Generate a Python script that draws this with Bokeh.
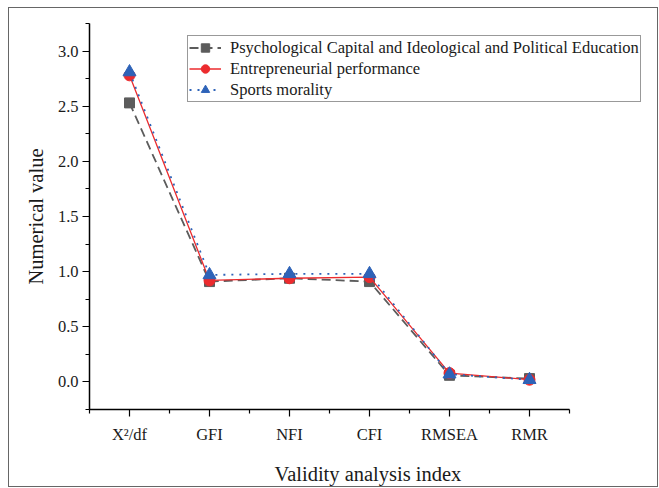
from bokeh.plotting import figure
from bokeh.models import FixedTicker, SingleIntervalTicker, Range1d, Legend, LegendItem, NumeralTickFormatter
from bokeh.embed import file_html
from bokeh.resources import INLINE

categories = ["X\u00b2/df", "GFI", "NFI", "CFI", "RMSEA", "RMR"]
psych_capital = [2.53, 0.91, 0.94, 0.91, 0.06, 0.03]
entrepreneurial = [2.78, 0.92, 0.94, 0.95, 0.08, 0.02]
sports_morality = [2.81, 0.97, 0.98, 0.98, 0.07, 0.02]
series_names = ["Psychological Capital and Ideological and Political Education",
                "Entrepreneurial performance", "Sports morality"]

FONT = "Liberation Serif"
xs = list(range(len(categories)))

# frame extends right past the axis so the legend is not clipped; axis is bounded
p = figure(width=650, height=480, output_backend="svg", toolbar_location=None,
           x_range=Range1d(-0.5, -0.5 + 557 / 80), y_range=Range1d(-0.25, 3.25),
           min_border_left=80, min_border_right=13, min_border_top=15, min_border_bottom=79)
p.styles = {"border": "1px solid #666666", "margin-left": "8px", "margin-top": "7px"}
p.outline_line_color = None
p.xgrid.visible = False
p.ygrid.visible = False

gray, red, blue = "#5c5c5c", "#ec2b2e", "#2e63b8"

l1 = p.line(xs, psych_capital, line_color=gray, line_width=1.8, line_dash="9 5")
s1 = p.scatter(xs, psych_capital, marker="square", size=10, fill_color=gray, line_color=gray)
l2 = p.line(xs, entrepreneurial, line_color=red, line_width=1.3)
s2 = p.scatter(xs, entrepreneurial, marker="circle", size=11, fill_color=red, line_color=red)
l3 = p.line(xs, sports_morality, line_color=blue, line_width=1.8, line_dash="2 6")
s3 = p.scatter(xs, sports_morality, marker="triangle", size=13, fill_color=blue, line_color=blue)

# axes
p.xaxis.bounds = (-0.5, len(categories) - 0.5)
p.xaxis.ticker = FixedTicker(ticks=xs, minor_ticks=[x - 0.5 for x in xs] + [xs[-1] + 0.5])
p.xaxis.major_label_overrides = {i: c for i, c in enumerate(categories)}
p.yaxis.ticker = SingleIntervalTicker(interval=0.5, num_minor_ticks=2)
p.yaxis.formatter = NumeralTickFormatter(format="0.0")
for ax in (p.xaxis, p.yaxis):
    ax.axis_line_color = "black"
    ax.axis_line_width = 1.5
    ax.major_tick_line_color = "black"
    ax.minor_tick_line_color = "black"
    ax.major_tick_line_width = 1.2
    ax.minor_tick_line_width = 1.2
    ax.major_tick_out = 7
    ax.major_tick_in = 0
    ax.minor_tick_out = 4
    ax.minor_tick_in = 0
    ax.major_label_text_font = FONT
    ax.major_label_text_font_size = "16.5px"
    ax.major_label_text_color = "#1a1a1a"
    ax.axis_label_text_font = FONT
    ax.axis_label_text_font_size = "20.5px"
    ax.axis_label_text_font_style = "normal"
    ax.axis_label_text_color = "#1a1a1a"
p.xaxis.axis_label = "Validity analysis index"
p.yaxis.axis_label = "Numerical value"
p.xaxis.major_label_standoff = 8
p.xaxis.axis_label_standoff = 16
p.yaxis.major_label_standoff = 4
p.yaxis.axis_label_standoff = 8

legend = Legend(items=[
    LegendItem(label=series_names[0], renderers=[l1, s1]),
    LegendItem(label=series_names[1], renderers=[l2, s2]),
    LegendItem(label=series_names[2], renderers=[l3, s3]),
], location=(98, 307))
legend.label_text_font = FONT
legend.label_text_font_size = "16.5px"
legend.label_text_color = "#1a1a1a"
legend.border_line_color = "#333333"
legend.border_line_width = 1.2
legend.background_fill_alpha = 1
legend.padding = 1
legend.margin = 0
legend.spacing = 0
legend.glyph_width = 32
legend.glyph_height = 21
legend.label_height = 21
legend.label_standoff = 9
p.add_layout(legend, "center")

open("out.html", "w").write(file_html(p, INLINE))
